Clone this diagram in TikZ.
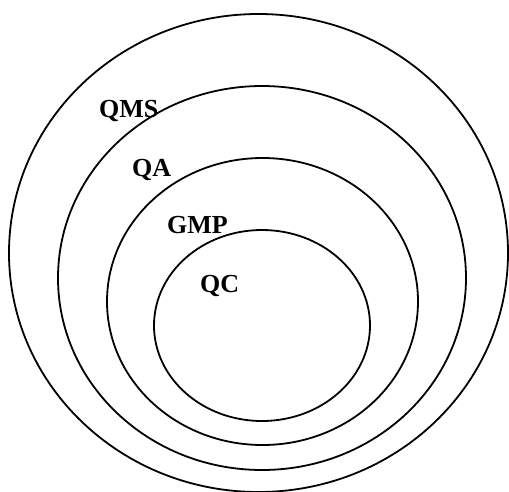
\documentclass[tikz,border=0pt]{standalone}
\usepackage{fontspec}
\setmainfont{Liberation Serif}
\usepackage{tikz}
\usetikzlibrary{positioning}

\begin{document}
\begin{tikzpicture}[x=1pt, y=-1pt,
      ring/.style={draw=black, line width=1.8pt},
      lbl/.style={anchor=base west, inner sep=0pt,
        font=\fontsize{26}{30}\selectfont\bfseries}]

    \useasboundingbox (0,0) rectangle (509,491);

    % nested ellipses, outer to inner
    \draw[ring] (258.5,253) ellipse [x radius=249.5, y radius=239];
    \draw[ring] (262,278) ellipse [x radius=204, y radius=192];
    \draw[ring] (262.5,301.5) ellipse [x radius=155.5, y radius=143.5];
    \draw[ring] (262,325.5) ellipse [x radius=108, y radius=95.5];

    \node[lbl] (qms) at (99,117) {QMS};
    \node[lbl] (qa) at (132,176) {QA};
    \node[lbl] (gmp) at (167,233) {GMP};
    \node[lbl] (qc) at (200,292) {QC};
  \end{tikzpicture}
\end{document}
